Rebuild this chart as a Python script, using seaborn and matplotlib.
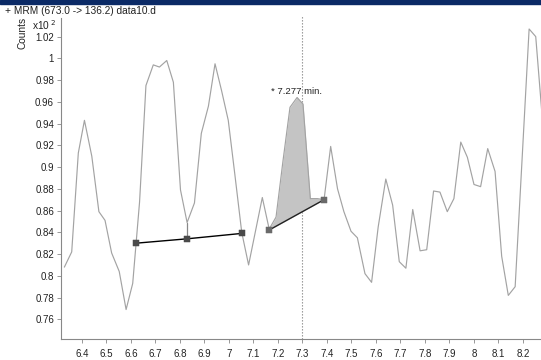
import numpy as np
import pandas as pd
import matplotlib
matplotlib.use("Agg")
import matplotlib.pyplot as plt
import seaborn as sns

# MRM trace (673.0 -> 136.2), counts in units of x10^2
times = [6.328, 6.358, 6.385, 6.410, 6.440, 6.469, 6.494, 6.521, 6.552, 6.580,
         6.607, 6.635, 6.661, 6.691, 6.716, 6.746, 6.773, 6.802, 6.829, 6.859,
         6.887, 6.916, 6.943, 6.970, 6.997, 7.024, 7.052, 7.080, 7.108, 7.136,
         7.164, 7.192, 7.220, 7.249, 7.278, 7.302, 7.332, 7.361, 7.388, 7.415,
         7.443, 7.469, 7.498, 7.524, 7.555, 7.582, 7.609, 7.640, 7.668, 7.695,
         7.722, 7.750, 7.780, 7.807, 7.835, 7.861, 7.891, 7.918, 7.946, 7.973,
         8.000, 8.027, 8.056, 8.086, 8.113, 8.140, 8.168, 8.196, 8.225, 8.252,
         8.282]
counts = [0.808, 0.822, 0.913, 0.943, 0.910, 0.859, 0.851, 0.821, 0.804, 0.769,
          0.793, 0.868, 0.975, 0.994, 0.992, 0.998, 0.978, 0.879, 0.849, 0.867,
          0.931, 0.956, 0.995, 0.970, 0.943, 0.893, 0.840, 0.810, 0.841, 0.872,
          0.843, 0.854, 0.905, 0.955, 0.964, 0.958, 0.871, 0.871, 0.870, 0.919,
          0.880, 0.859, 0.841, 0.835, 0.802, 0.794, 0.845, 0.889, 0.865, 0.813,
          0.807, 0.861, 0.823, 0.824, 0.878, 0.877, 0.859, 0.871, 0.923, 0.909,
          0.884, 0.882, 0.917, 0.896, 0.818, 0.782, 0.790, 0.906, 1.027, 1.020,
          0.936]

# integration baselines (square markers)
base1_t = [6.620, 6.827, 7.052]
base1_v = [0.830, 0.834, 0.839]
base2_t = [7.163, 7.388]
base2_v = [0.842, 0.870]
drop_t = 6.829
drop_top = 0.849

peak_label = "* 7.277 min."
peak_label_pos = (7.277, 0.965)
cursor_t = 7.298

fig = plt.figure(figsize=(5.41, 3.60), dpi=100)
sns.set_style("ticks")
plt.rcParams["font.family"] = ["Liberation Sans", "DejaVu Sans"]

ax = fig.add_axes([61 / 541, 21 / 360, 480 / 541, 321 / 360])

df = pd.DataFrame({"t": times, "v": counts})
sns.lineplot(data=df, x="t", y="v", ax=ax, color="#a3a3a3", linewidth=0.85,
             estimator=None, sort=False, zorder=3)

# shaded peak area
tt = np.array(times)
vv = np.array(counts)
m = (tt >= base2_t[0] - 1e-6) & (tt <= base2_t[1] + 1e-6)
bl = np.interp(tt[m], base2_t, base2_v)
ax.fill_between(tt[m], bl, vv[m], color="#c4c4c4", zorder=2, linewidth=0)

# baselines
ax.plot(base1_t, base1_v, color="black", linewidth=1.0, zorder=4)
ax.plot(base2_t, base2_v, color="#222222", linewidth=1.0, zorder=4)
ax.plot([drop_t, drop_t], [drop_top, base1_v[1]], color="#888888", linewidth=0.9, zorder=3)
sns.scatterplot(x=base1_t, y=base1_v, ax=ax, marker="s", s=20, color="#4a4a4a",
                edgecolor="#4a4a4a", zorder=5)
sns.scatterplot(x=base2_t, y=base2_v, ax=ax, marker="s", s=20, color="#6a6a6a",
                edgecolor="#6a6a6a", zorder=5)

ax.text(peak_label_pos[0], peak_label_pos[1], peak_label, ha="center", va="bottom",
        fontsize=6.8, color="#222222", zorder=6)

ax.set_xlim(6.3143, 8.2735)
ax.set_ylim(0.7419, 1.0371)
ax.axvline(cursor_t, color="#8c8c8c", linestyle=(0, (1.2, 1.5)), linewidth=0.8,
           ymin=0, ymax=1.01, clip_on=False, zorder=1)

xt = np.round(np.arange(6.4, 8.21, 0.1), 1)
ax.set_xticks(xt)
ax.set_xticklabels([f"{x:g}" for x in xt])
yt = np.round(np.arange(0.76, 1.021, 0.02), 2)
ax.set_yticks(yt)
ax.set_yticklabels([f"{y:g}" for y in yt])
ax.tick_params(axis="both", labelsize=7, length=3, width=0.6, color="#888888",
               pad=2, labelcolor="#222222")
ax.tick_params(axis="x", pad=4)
sns.despine(ax=ax)
for s in ["left", "bottom"]:
    ax.spines[s].set_color("#888888")
    ax.spines[s].set_linewidth(0.8)
ax.set_xlabel("")
ax.set_ylabel("")

# header texts
fig.text(5 / 541, 1 - 11 / 360, "+ MRM (673.0 -> 136.2) data10.d", fontsize=7.3,
         va="center", ha="left", color="#222222")
fig.text(23 / 541, 1 - 33 / 360, "Counts", rotation=90, fontsize=7.3,
         va="center", ha="center", color="#222222")
fig.text(32 / 541, 1 - 25 / 360, r"x10$^{\ 2}$", fontsize=7.3,
         va="center", ha="left", color="#222222")

# navy band at the very top
fig.patches.append(plt.Rectangle((0, 1 - 4 / 360), 1, 4 / 360, transform=fig.transFigure,
                                 color="#0b2a66", zorder=10))

fig.savefig("out.png", dpi=100)
